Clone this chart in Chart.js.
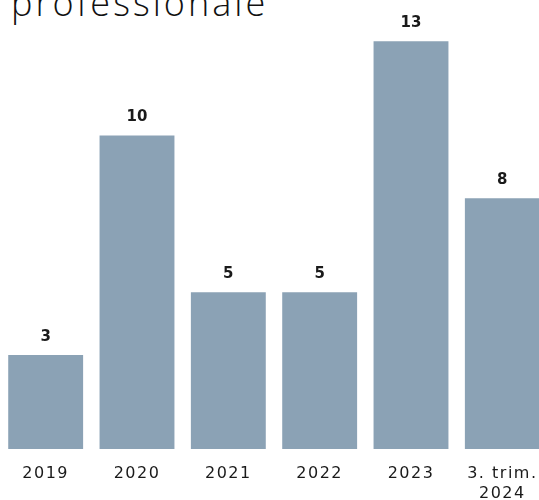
<!DOCTYPE html>
<html>
<head>
<meta charset="utf-8">
<script src="https://cdn.jsdelivr.net/npm/chart.js@4/dist/chart.umd.min.js"></script>
<style>
  html, body { margin: 0; padding: 0; background: #fff; overflow: hidden; }
  #title {
    position: absolute; left: 11px; top: -15px; margin: 0;
    font-family: "Open Sans", sans-serif; font-weight: 300; font-size: 36px; line-height: 36px;
    letter-spacing: 3px; color: #111; white-space: nowrap;
  }
  #wrap { position: absolute; left: 0; top: 0; width: 548px; height: 511px; }
</style>
</head>
<body>
<h1 id="title">professionale</h1>
<div id="wrap"><canvas id="chart"></canvas></div>
<script>
// --- Data ---
const categories = ['2019', '2020', '2021', '2022', '2023', ['3. trim.', '2024']];
const values = [3, 10, 5, 5, 13, 8];

const barColor = '#8ba2b5';
const textColor = '#1a1a1a';

// Slightly wider spacing for the tick labels
const tickSpacing = {
    id: 'tickSpacing',
    beforeDraw(chart) {
        chart.ctx.letterSpacing = '1.5px';
    }
};

// Value labels above each bar
const valueLabels = {
    id: 'valueLabels',
    afterDatasetsDraw(chart) {
        const ctx = chart.ctx;
        const meta = chart.getDatasetMeta(0);
        ctx.save();
        ctx.letterSpacing = '0px';
        ctx.font = 'bold 15px "DejaVu Sans"';
        ctx.fillStyle = textColor;
        ctx.textAlign = 'center';
        ctx.textBaseline = 'middle';
        meta.data.forEach((bar, i) => {
            ctx.fillText(String(values[i]), bar.x, bar.y - 18);
        });
        ctx.restore();
    }
};

new Chart(document.getElementById('chart'), {
    type: 'bar',
    data: {
        labels: categories,
        datasets: [{
            data: values,
            backgroundColor: barColor,
            borderWidth: 0,
            barPercentage: 0.82,
            categoryPercentage: 1
        }]
    },
    options: {
        responsive: true,
        maintainAspectRatio: false,
        animation: false,
        layout: { padding: { left: 0, right: 0, top: 10, bottom: 0 } },
        scales: {
            x: {
                grid: { display: false },
                border: { display: false },
                ticks: {
                    color: textColor,
                    font: { family: '"DejaVu Sans"', size: 16, lineHeight: 1.25 },
                    padding: 7,
                    maxRotation: 0,
                    autoSkip: false
                }
            },
            y: {
                display: false,
                min: 0,
                max: 14
            }
        },
        plugins: {
            legend: { display: false },
            tooltip: { enabled: false },
            title: { display: false }
        }
    },
    plugins: [tickSpacing, valueLabels]
});
</script>
</body>
</html>
